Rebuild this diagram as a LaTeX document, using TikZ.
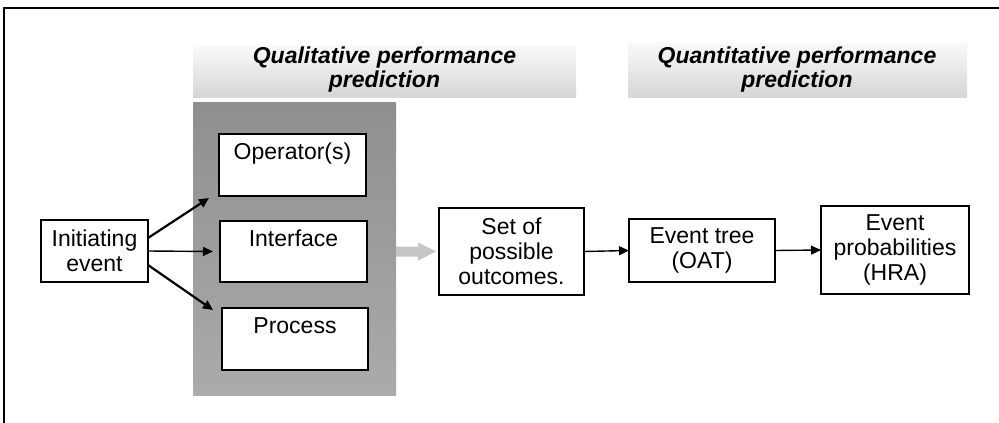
\documentclass[tikz,border=0pt]{standalone}
\usepackage{fontspec}
\setmainfont{Liberation Sans}
\usetikzlibrary{arrows.meta,calc}

\tikzset{
  box/.style={draw=black, line width=1.8pt, fill=white, inner sep=0pt, outer sep=0pt},
  txt/.style={align=center, inner sep=0pt, font=\fontsize{23}{25}\selectfont},
  title/.style={align=center, inner sep=0pt, font=\fontsize{23}{24}\selectfont\bfseries\itshape},
  band/.style={top color=gray!4, bottom color=gray!32, draw=none},
  link/.style={draw=black, line width=1.4pt, -{Triangle[length=10pt,width=9pt]}},
  boldlink/.style={link, line width=2.2pt},
  fatarrow/.style={fill=gray!45, draw=none},
}

\begin{document}
\begin{tikzpicture}[x=1pt, y=-1pt]
  \useasboundingbox (0,0) rectangle (999,423);

  % page frame: top and left rules
  \draw[line width=2pt] (4,423) -- (4,8) -- (999,8);

  % heading bands
  \shade[band] (193,45) rectangle (576,97);
  \node[title] (qual) at (384.5,70) {Qualitative performance\\prediction};
  \shade[band] (628,42) rectangle (967,97);
  \node[title] (quant) at (797,70) {Quantitative performance\\prediction};

  % grey panel holding the three qualitative components
  \node[draw=none, inner sep=0pt, minimum width=203, minimum height=293,
        top color=gray!88, bottom color=gray!66] (panel) at (294.5,248.5) {};

  % boxes
  \node[box, minimum width=107, minimum height=62] (init) at (94.5,251) {};
  \node[txt] at (init) {Initiating\\event};

  \node[box, minimum width=147, minimum height=62] (op) at (292.5,165) {};
  \node[txt, anchor=north] (optxt) at ([yshift=-9pt]op.north) {Operator(s)};

  \node[box, minimum width=147, minimum height=61] (intf) at (293.5,251.5) {};
  \node[txt, anchor=north] (intftxt) at ([yshift=-9pt]intf.north) {Interface};

  \node[box, minimum width=146, minimum height=62] (proc) at (295,339) {};
  \node[txt, anchor=north] (proctxt) at ([yshift=-9pt]proc.north) {Process};

  \node[box, minimum width=145, minimum height=87] (set) at (511.5,251.5) {};
  \node[txt] at (set) {Set of\\possible\\outcomes.};

  \node[box, minimum width=146, minimum height=63] (tree) at (702,250.5) {};
  \node[txt] at (tree) {Event tree\\(OAT)};

  \node[box, minimum width=148, minimum height=88] (prob) at (895,250) {};
  \node[txt] at (prob) {Event\\probabilities\\(HRA)};

  % connectors from the initiating event
  \draw[boldlink] ([yshift=13pt]init.east) -- ([xshift=-10pt,yshift=-2pt]op.south west);
  \draw[link] (init.east) -- ([xshift=-7pt]intf.west);
  \draw[boldlink] ([yshift=-14pt]init.east) -- ([xshift=-9pt,yshift=-2pt]proc.north west);

  % broad arrow from the panel to the outcomes
  \fill[fatarrow] (panel.east |- set.west) ++(0,-5) -- ++(22,0) -- ++(0,-4)
        -- ++(18,9) -- ++(-18,9) -- ++(0,-4) -- ++(-22,0) -- cycle;

  % quantitative chain
  \draw[link] (set.east) -- (tree.west);
  \draw[link] (tree.east) -- (prob.west);
\end{tikzpicture}
\end{document}
